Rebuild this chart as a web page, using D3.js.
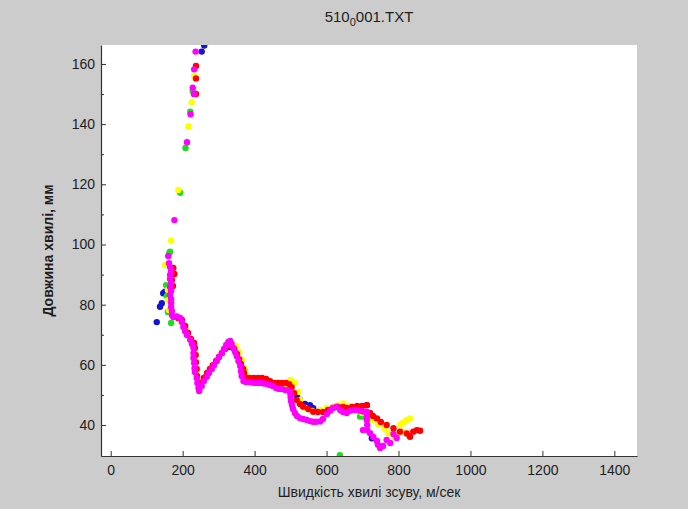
<!DOCTYPE html>
<html>
<head>
<meta charset="utf-8">
<script src="https://cdn.jsdelivr.net/npm/d3@7"></script>
<style>
  html, body { margin: 0; padding: 0; background: #cccccc; }
  svg { display: block; }
</style>
</head>
<body>
<svg id="chart" width="688" height="509"></svg>
<script>
// ---- data: [shear-wave speed m/s, wavelength mm] ----
const blueData = [
  [260,166.1],[253,164.1],[151,84.3],[146,83.8],[142,80.5],[137,79.3],[128,74.2],
  [332,65.9],[348,64.3],[360,60.9],[371,58.3],[443,53.6],[451,53.3],
  [518,49.6],[526,48.3],[540,47],[554,46.6],[563,45.6],[712,46.6],[726,35.6]
];
const greenData = [
  [228,151],[221,144.1],[208,132.1],[193,117.2],[165,97.6],[163,97.3],[154,86.5],
  [156,82.9],[159,77.6],[168,73.9],[265,56.3],[273,57.6],[284,59.6],
  [693,42.8],[701,42.8],[712,42.8],[637,30]
];
const yellowData = [
  [232,156.1],[225,147.3],[216,139.2],[188,118.1],[168,101.3],[151,93.2],[159,84.9],
  [159,81.5],[162,78.2],[193,74.9],[209,71.6],[223,68.3],[237,63.3],[240,58.3],
  [248,55],[254,55],[268,57],[282,59.6],[296,61.9],[309,64.3],[323,66.3],[337,67.3],
  [348,66.3],[357,64.3],[365,61.6],[371,58.9],[376,56.6],[387,55],[404,54.6],[421,54.6],
  [437,54.3],[454,53.6],[471,53.3],[487,53.6],[499,55],[512,54],[521,51],[526,48.3],
  [540,45.7],[560,44.7],[582,45],[601,45.7],[619,46.1],[632,46.6],[647,47.2],[665,46.3],
  [682,45],[699,44],[713,43],[726,41.7],[743,40.3],[760,39],[771,37.3],[786,36.1],
  [799,37.3],[813,37.8],[804,40],[813,40.8],[823,41.7],[832,42.2]
];
const redData = [
  [237,159.3],[237,155.2],[237,150],[174,92.2],[177,90.2],[170,88.2],[173,86.2],
  [187,75.6],[198,74.9],[207,72.9],[215,70.6],[223,68.6],[232,67.3],[234,65.6],
  [236,63.3],[237,60.9],[239,58.6],[240,56.3],[246,54],[251,54],[259,55.6],[268,57.3],
  [276,58.6],[284,59.9],[293,61.3],[301,62.6],[309,63.9],[318,65.3],[326,66.3],[334,66.6],
  [343,65.3],[351,63.6],[357,61.9],[362,60.3],[368,58.6],[371,57],[376,55.6],[387,55.6],
  [398,55.6],[410,55.6],[421,55.6],[432,55.3],[443,54.6],[454,54],[465,54],[476,54],
  [487,54],[496,53.6],[503,52.6],[510,50.6],[517,48.3],[526,47],[535,46.1],[549,45.3],
  [563,44.4],[576,44.3],[590,44.3],[604,45],[618,45.7],[632,46],[646,46],[657,45.7],
  [671,46],[685,46.3],[699,46.3],[712,46.6],[721,44],[729,43],[740,42.2],[751,41],
  [767,40],[786,38.9],[804,37.8],[823,37.2],[832,36.1],[841,37.8],[851,38.3],[860,38.1]
];
const magentaData = [
  [236,164.1],[232,158.2],[228,152.1],[231,150],[222,143.3],[212,134],[177,108.1],[160,96.2],
  [162,93.8],[165,92.5],[168,91.2],[165,89.9],[165,88.5],[168,87.2],[165,85.9],[168,84.5],
  [165,83.2],[168,81.9],[168,80.6],[168,79.2],[170,77.9],[170,76.6],
  [174,75.9],[184,76.1],[193,75.6],[198,74.2],[202,72.6],[207,71.2],[212,69.9],[221,68.3],
  [226,66.9],[230,65.6],[230,63.9],[230,62.3],[232,60.6],[233,58.9],[234,57.6],[239,55.6],
  [241,54],[244,52.3],[246,51.3],
  [253,53],[259,54.6],[267,56],[273,57.3],[281,58.6],[287,59.9],[295,61.3],[301,62.6],
  [309,63.9],[315,65.3],[321,66.6],[327,67.6],[332,67.9],
  [336,66.9],[341,65.6],[346,64.3],[350,62.9],[355,61.3],[360,59.6],[362,57.9],[364,56.3],
  [369,54.6],[376,54.3],[385,54.3],[393,54.1],[401,54],[410,54],[418,54],[426,53.8],
  [435,53.6],[443,53.3],[451,53],[460,52.3],[468,52],[476,52],[485,51.6],[493,51.6],
  [499,50.6],[500,49.3],[501,48],[504,46.6],[507,45.3],[512,44],[518,43],[526,42.3],
  [535,42],[545,41.7],[554,41.3],[562,41.1],[571,41.1],[582,41.2],[590,42],[601,43.7],
  [610,44.7],[618,45.7],[628,46.1],[638,45],[646,44.3],[656,44],[665,44.7],[674,45],
  [684,45],[693,44.7],[701,44.5],[712,44.3],[712,43],[712,41.7],[713,40],[713,38.3],
  [701,38.3],[721,37.3],[730,36],[740,34.7],[743,33.4],[749,32.4],[757,33],[767,35],
  [777,34],[786,37],[795,35.7]
];
const seriesList = [
  { name: "blue", color: "#1414d2", data: blueData },
  { name: "green", color: "#1edc1e", data: greenData },
  { name: "yellow", color: "#ffff00", data: yellowData },
  { name: "red", color: "#ff0000", data: redData },
  { name: "magenta", color: "#ff00ff", data: magentaData }
];
const xTicks = [0, 200, 400, 600, 800, 1000, 1200, 1400];
const yTicks = [40, 60, 80, 100, 120, 140, 160];
const yMinorTicks = [50, 70, 90, 110, 130, 150];
const titleMain = "510";
const titleSub = "0";
const titleRest = "001.TXT";
const xLabel = "Швидкість хвилі зсуву, м/сек";
const yLabel = "Довжина хвилі, мм";

// ---- layout ----
const L = 101, R = 637, T = 45, B = 456;
const svg = d3.select("#chart");
const font = "'Liberation Sans', Arial, Helvetica, sans-serif";
const textColor = "#1e1e1e";
const axisColor = "#333333";

svg.append("rect").attr("width", 688).attr("height", 509).attr("fill", "#cccccc");
svg.append("rect").attr("x", L).attr("y", T).attr("width", R - L).attr("height", B - T).attr("fill", "#ffffff");

const x = d3.scaleLinear().domain([-27, 1463]).range([L, R]);
const y = d3.scaleLinear().domain([29.7, 166.3]).range([B, T]);

svg.append("clipPath").attr("id", "plotClip")
  .append("rect").attr("x", L).attr("y", T).attr("width", R - L).attr("height", B - T);

const pts = svg.append("g").attr("clip-path", "url(#plotClip)");
seriesList.forEach(s => {
  pts.append("g").selectAll("circle").data(s.data).join("circle")
    .attr("cx", d => x(d[0])).attr("cy", d => y(d[1]))
    .attr("r", 3.2).attr("fill", s.color);
});

// axes
const fmt = d3.format("d");
const xAxis = d3.axisBottom(x).tickValues(xTicks).tickFormat(fmt).tickSizeInner(-5).tickSizeOuter(0).tickPadding(9);
const yAxis = d3.axisLeft(y).tickValues(yTicks).tickFormat(fmt).tickSizeInner(-5).tickSizeOuter(0).tickPadding(6);

const gx = svg.append("g").attr("transform", `translate(0,${B})`).call(xAxis);
const gy = svg.append("g").attr("transform", `translate(${L},0)`).call(yAxis);
svg.append("g").attr("transform", `translate(${L},0)`)
  .call(d3.axisLeft(y).tickValues(yMinorTicks).tickSizeInner(-3).tickSizeOuter(0).tickFormat(""))
  .call(g => g.select(".domain").remove())
  .selectAll("line").attr("stroke", axisColor);

[gx, gy].forEach(g => {
  g.select(".domain").attr("stroke", axisColor).attr("stroke-width", 1.2);
  g.selectAll(".tick line").attr("stroke", axisColor);
  g.selectAll(".tick text").attr("fill", textColor).style("font-family", font).style("font-size", "14px");
});

// title
const title = svg.append("text").attr("x", (L + R) / 2).attr("y", 22)
  .attr("text-anchor", "middle").attr("fill", textColor)
  .style("font-family", font).style("font-size", "15px");
title.append("tspan").text(titleMain);
title.append("tspan").attr("dy", 4).style("font-size", "11px").text(titleSub);
title.append("tspan").attr("dy", -4).text(titleRest);

// axis labels
svg.append("text").attr("x", (L + R) / 2).attr("y", 497)
  .attr("text-anchor", "middle").attr("fill", textColor)
  .style("font-family", font).style("font-size", "14px").text(xLabel);
svg.append("text").attr("transform", `translate(53,${(T + B) / 2}) rotate(-90)`)
  .attr("text-anchor", "middle").attr("fill", textColor)
  .style("font-family", font).style("font-size", "14px").style("font-weight", "bold").text(yLabel);
</script>
</body>
</html>
